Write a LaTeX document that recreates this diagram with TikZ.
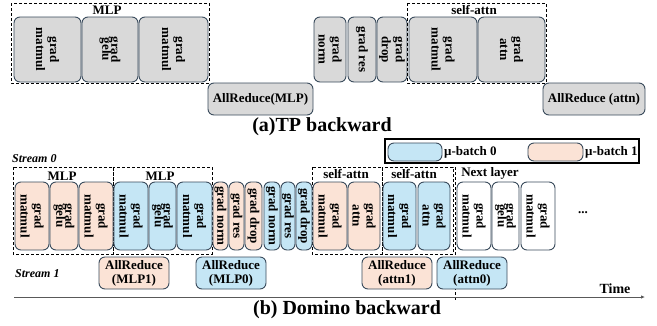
\documentclass[tikz,border=0pt]{standalone}
\usepackage{fontspec}
\setmainfont{Liberation Serif}
\usetikzlibrary{arrows.meta}
\definecolor{bd}{HTML}{3A4B5C}
\definecolor{gfill}{HTML}{D9D9D9}
\definecolor{ofill}{HTML}{FBE3D6}
\definecolor{bfill}{HTML}{C5E6F5}
\newcommand\mybox[7]{\node[blk,fill=#6,rotate=-90,minimum width={#5-#4},minimum height={#3-#2}] (#1) at ({(#2+#3)/2},{(#4+#5)/2}) {#7};}
\newcommand\arbox[7]{\node[blk,fill=#6,minimum width={#3-#2},minimum height={#5-#4}] (#1) at ({(#2+#3)/2},{(#4+#5)/2}) {#7};}
\begin{document}
\begin{tikzpicture}[x=1pt,y=-1pt,
  blk/.style={draw=bd,line width=0.9pt,rounded corners=6pt,inner sep=0pt,align=center,
    font=\fontsize{13}{14}\selectfont\bfseries},
  grp/.style={draw=black,dash pattern=on 3pt off 2pt,line width=0.7pt},
  lbl/.style={font=\fontsize{13}{14}\selectfont\bfseries,inner sep=0pt},
  captext/.style={font=\fontsize{20}{22}\selectfont\bfseries,inner sep=0pt},
  strm/.style={font=\fontsize{12}{13}\selectfont\bfseries\itshape,inner sep=0pt,anchor=west}]
\useasboundingbox (0,0) rectangle (657,325);
% ---------- (a) TP backward ----------
\draw[grp] (11,3) rectangle (209,83);
\node[lbl] (mlpa) at (107,10) {MLP};
\mybox{a1}{14}{81}{17}{82}{gfill}{grad\\matmul}
\mybox{a2}{82}{138}{17}{82}{gfill}{grad\\[-5pt]gelu}
\mybox{a3}{139}{208}{17}{82}{gfill}{grad\\matmul}
\arbox{ara}{208}{313}{83}{115}{gfill}{AllReduce(MLP)}
\mybox{a4}{314}{346}{17}{82}{gfill}{grad\\norm}
\mybox{a5}{348}{376}{17}{82}{gfill}{grad res}
\mybox{a6}{377}{407}{17}{82}{gfill}{grad\\drop}
\draw[grp] (407,3) rectangle (546,83);
\node[lbl] (saa) at (474,10) {self-attn};
\mybox{a7}{409}{477}{17}{82}{gfill}{grad\\matmul}
\mybox{a8}{478}{545}{17}{82}{gfill}{grad\\attn}
\arbox{arb}{543}{645}{83}{115}{gfill}{AllReduce (attn)}
\node[captext] (capa) at (322,127) {(a)TP backward};
% ---------- (b) Domino backward ----------
\node[strm] (s0) at (12,159) {Stream 0};
\draw[line width=1.2pt] (385,139) rectangle (639,163);
\arbox{lgb}{388}{442}{143}{161}{bfill}{}
\node[lbl,anchor=west] (lgbt) at (444,152) {μ-batch 0};
\arbox{lgo}{528}{583}{143}{161}{ofill}{}
\node[lbl,anchor=west] (lgot) at (585,152) {μ-batch 1};
\draw[grp] (13,167) rectangle (113,254);
\draw[grp] (113,167) rectangle (212,254);
\node[lbl] (mlp1) at (62,176) {MLP};
\node[lbl] (mlp0) at (160,176) {MLP};
\draw[grp] (312,167) rectangle (382,254);
\draw[grp] (382,167) rectangle (453,254);
\node[lbl] (sa1) at (346,174) {self-attn};
\node[lbl] (sa0) at (414,174) {self-attn};
\coordinate (nl0) at (455,167);
\coordinate (nl1) at (455,300);
\draw[grp] (nl0) -- (nl1);
\node[lbl] (nl) at (490,173) {Next layer};
\mybox{b1}{15}{49}{182}{250}{ofill}{grad\\matmul}
\mybox{b2}{50}{78}{182}{250}{ofill}{grad\\[-5pt]gelu}
\mybox{b3}{79}{113}{182}{250}{ofill}{grad\\matmul}
\mybox{b4}{114}{148}{182}{250}{bfill}{grad\\matmul}
\mybox{b5}{149}{176}{182}{250}{bfill}{grad\\[-5pt]gelu}
\mybox{b6}{177}{212}{182}{250}{bfill}{grad\\matmul}
\mybox{b7}{213}{228}{182}{250}{ofill}{grad norm}
\mybox{b8}{229}{244}{182}{250}{ofill}{grad res}
\mybox{b9}{245}{262}{182}{250}{ofill}{grad drop}
\mybox{b10}{264}{280}{182}{250}{bfill}{grad norm}
\mybox{b11}{281}{295}{182}{250}{bfill}{grad res}
\mybox{b12}{296}{312}{182}{250}{bfill}{grad drop}
\mybox{b13}{313}{347}{182}{250}{ofill}{grad\\matmul}
\mybox{b14}{348}{380}{182}{250}{ofill}{grad\\attn}
\mybox{b15}{383}{416}{182}{250}{bfill}{grad\\matmul}
\mybox{b16}{418}{450}{182}{250}{bfill}{grad\\attn}
\mybox{b17}{457}{491}{182}{250}{white}{grad\\matmul}
\mybox{b18}{492}{519}{182}{250}{white}{grad\\[-5pt]gelu}
\mybox{b19}{521}{555}{182}{250}{white}{grad\\matmul}
\node[lbl] (dots) at (583,213) {...};
\node[strm] (s1) at (15,274) {Stream 1};
\arbox{r1}{99}{169}{257}{289}{ofill}{AllReduce\\(MLP1)}
\arbox{r2}{196}{266}{257}{289}{bfill}{AllReduce\\(MLP0)}
\arbox{r3}{362}{432}{257}{289}{ofill}{AllReduce\\(attn1)}
\arbox{r4}{437}{507}{257}{289}{bfill}{AllReduce\\(attn0)}
\coordinate (t0) at (14,297);
\coordinate (t1) at (645,297);
\draw[draw=black!65,line width=1pt,-{Latex[length=4pt,width=3.5pt]}] (t0) -- (t1);
\node[lbl,font=\fontsize{14}{15}\selectfont\bfseries] (time) at (615,289) {Time};
\node[captext] (capb) at (347,310) {(b) Domino backward};
\end{tikzpicture}
\end{document}
